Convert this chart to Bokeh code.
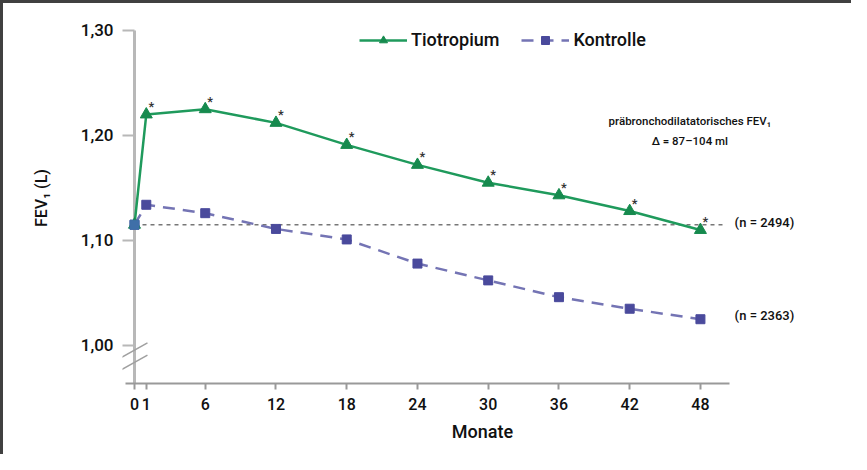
from bokeh.plotting import figure
from bokeh.models import Range1d, FixedTicker, CustomJSTickFormatter, Legend, LegendItem
from bokeh.core.properties import value
from bokeh.embed import file_html
from bokeh.resources import INLINE

# ---- data ----
months = [0, 1, 6, 12, 18, 24, 30, 36, 42, 48]
tiotropium = [1.115, 1.220, 1.225, 1.212, 1.191, 1.172, 1.155, 1.143, 1.128, 1.110]
kontrolle = [1.115, 1.134, 1.126, 1.111, 1.101, 1.078, 1.062, 1.046, 1.035, 1.025]
x_ticks = [0, 1, 6, 12, 18, 24, 30, 36, 42, 48]
y_ticks = [1.00, 1.10, 1.20, 1.30]
series_names = ["Tiotropium", "Kontrolle"]
n_labels = ["(n = 2494)", "(n = 2363)"]
note_lines = ["präbronchodilatatorisches FEV\u2081", "\u0394 = 87\u2013104 ml"]
y_title = "FEV\u2081 (L)"
x_title = "Monate"

FONT = "Roboto Medium"
TXT = "#111111"
GREEN = "#1f9a5c"
GREEN_DARK = "#168a4e"
BLUE = "#4a4a9c"
BLUE_LINE = "#7474b4"
AXIS_GRAY = "#b8b8b8"

Y0, Y1 = 0.9638, 1.3171
p = figure(width=851, height=454, output_backend="svg", toolbar_location=None,
           x_range=Range1d(-1.018, 60.05), y_range=Range1d(Y0, Y1),
           min_border_left=122, min_border_right=9, min_border_top=12, min_border_bottom=71,
           styles={"box-shadow": "inset 3px 3px 0 0 #404040"})
p.border_fill_color = None
p.outline_line_color = None
p.xgrid.visible = False
p.ygrid.visible = False
p.background_fill_color = None

# x axis
xa = p.xaxis[0]
xa.ticker = FixedTicker(ticks=x_ticks)
xa.bounds = (-0.8, 50.5)
xa.axis_line_color = "#999999"
xa.axis_line_width = 2
xa.major_tick_line_color = "#999999"
xa.major_tick_line_width = 2
xa.major_tick_out = 6
xa.major_tick_in = 0
xa.minor_tick_line_color = None
xa.major_label_standoff = 8
xa.major_label_text_font = FONT
xa.major_label_text_font_size = "16px"
xa.major_label_text_color = TXT
xa.axis_label = x_title
xa.axis_label_text_font = FONT
xa.axis_label_text_font_size = "18px"
xa.axis_label_text_font_style = "normal"
xa.axis_label_text_color = TXT
xa.axis_label_standoff = 8

# y axis (ticks reach in to month 0, where the axis line is drawn)
ya = p.yaxis[0]
ya.ticker = FixedTicker(ticks=y_ticks)
ya.bounds = (Y0, y_ticks[-1])
ya.formatter = CustomJSTickFormatter(code="return tick.toFixed(2).replace('.', ',');")
ya.axis_line_color = None
ya.major_tick_line_color = AXIS_GRAY
ya.major_tick_line_width = 2
ya.major_tick_out = 0
ya.major_tick_in = 12
ya.minor_tick_line_color = None
ya.major_label_standoff = 9
ya.major_label_text_font = FONT
ya.major_label_text_font_size = "17px"
ya.major_label_text_color = TXT
ya.axis_label = y_title
ya.axis_label_text_font = FONT
ya.axis_label_text_font_size = "16px"
ya.axis_label_text_font_style = "normal"
ya.axis_label_text_color = TXT
ya.axis_label_standoff = 27

# vertical axis line at month 0
p.line(x=[months[0], months[0]], y=[Y0, y_ticks[-1]], line_color=AXIS_GRAY, line_width=3)

# axis break marks
for yb in (0.9886, 0.9771):
    p.line(x=[-1.1, 1.1], y=[yb, yb + 0.0138], line_color="#a0a0a0", line_width=1.5)

# baseline reference line
p.line(x=[0, 50.2], y=[tiotropium[0], tiotropium[0]], line_color="#777777",
       line_width=1.5, line_dash="4 4")

# Kontrolle
l2 = p.line(months, kontrolle, line_color=BLUE_LINE, line_width=2.5, line_dash="12 8")
s2 = p.scatter(months, kontrolle, marker="square", size=9, fill_color=BLUE, line_color=BLUE)

# Tiotropium
l1 = p.line(months, tiotropium, line_color=GREEN, line_width=2.5)
s1 = p.scatter(months, tiotropium, marker="triangle", size=12, fill_color=GREEN_DARK, line_color=GREEN_DARK)

# Kontrolle marker at 0 on top (as in picture)
p.scatter(months[:1], kontrolle[:1], marker="square", size=9, fill_color="#3f6fa8", line_color="#3f6fa8")

# significance asterisks
p.text(x=months[1:], y=tiotropium[1:], text=["*"] * (len(months) - 1),
       x_offset=5, y_offset=-8, text_font=value(FONT), text_font_size="13px",
       text_color="#333333", text_align="center", text_baseline="middle")

# n labels
p.text(x=[months[-1] + 2.9, months[-1] + 2.9], y=[tiotropium[0], kontrolle[-1]],
       text=n_labels, y_offset=[-2, -4], text_font=value(FONT), text_font_size="13px",
       text_color=TXT, text_align="left", text_baseline="middle")

# annotation
p.text(x=[47.1, 47.1], y=[1.214, 1.195], text=note_lines, text_font=value(FONT),
       text_font_size="11.5px", text_color=TXT, text_align="center", text_baseline="middle")

legend = Legend(items=[LegendItem(label=series_names[0], renderers=[l1, s1]),
                       LegendItem(label=series_names[1], renderers=[l2, s2])],
                orientation="horizontal", location=(237, 333),
                glyph_width=48, glyph_height=20, label_standoff=4, spacing=22,
                padding=0, margin=0, border_line_alpha=0, background_fill_alpha=0,
                label_text_font=FONT, label_text_font_size="18px", label_text_color=TXT)
p.add_layout(legend)

open("out.html", "w").write(file_html(p, INLINE))
